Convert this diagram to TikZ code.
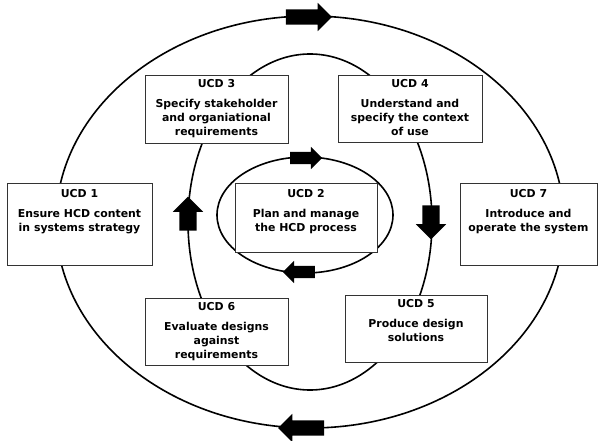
\documentclass[tikz,border=0pt]{standalone}
\usepackage{fontspec}
\setmainfont{DejaVu Sans}
\usetikzlibrary{shapes.arrows}
\begin{document}
\begin{tikzpicture}[x=1pt,y=-1pt,
  ring/.style={line width=1.6pt},
  ucdbox/.style={draw=black!80,line width=0.6pt,fill=white,inner sep=0pt},
  ucdtext/.style={anchor=north,align=center,inner sep=0pt,
    font=\fontsize{10.9}{14}\selectfont\bfseries},
  blockarrow/.style={single arrow,fill=black,draw=none,inner xsep=0pt,
    single arrow head indent=0pt,anchor=center}
]
\useasboundingbox (0,0) rectangle (600,441);
% rings
\draw[ring] (310,222) ellipse [x radius=254,y radius=206];
\draw[ring] (310,222) ellipse [x radius=122,y radius=168];
\draw[ring] (305,215) ellipse [x radius=88,y radius=58];
% boxes
\node[ucdbox,minimum width=145pt,minimum height=82pt] (b1) at (79.5,224) {};
\node[ucdbox,minimum width=143pt,minimum height=68pt] (b3) at (216.5,109) {};
\node[ucdbox,minimum width=144pt,minimum height=67pt] (b4) at (410,108.5) {};
\node[ucdbox,minimum width=142pt,minimum height=69pt] (b2) at (306,217.5) {};
\node[ucdbox,minimum width=137pt,minimum height=82pt] (b7) at (528.5,224) {};
\node[ucdbox,minimum width=143pt,minimum height=67pt] (b6) at (216.5,331.5) {};
\node[ucdbox,minimum width=142pt,minimum height=67pt] (b5) at (416,328.5) {};
% texts
\node[ucdtext] (t1) at ([yshift=-7pt]b1.north) {UCD 1\\[6pt]Ensure HCD content\\in systems strategy};
\node[ucdtext] (t3) at ([yshift=-5pt]b3.north) {UCD 3\\[6pt]Specify stakeholder\\and organiational\\requirements};
\node[ucdtext] (t4) at ([yshift=-5pt]b4.north) {UCD 4\\[6pt]Understand and\\specify the context\\of use};
\node[ucdtext] (t2) at ([yshift=-7pt]b2.north) {UCD 2\\[6pt]Plan and manage\\the HCD process};
\node[ucdtext] (t7) at ([yshift=-7pt]b7.north) {UCD 7\\[6pt]Introduce and\\operate the system};
\node[ucdtext] (t6) at ([yshift=-5pt]b6.north) {UCD 6\\[6pt]Evaluate designs\\against\\requirements};
\node[ucdtext] (t5) at ([yshift=-5pt]b5.north) {UCD 5\\[6pt]Produce design\\solutions};
% arrows
\node[blockarrow,minimum height=46pt,inner ysep=7.5pt,single arrow head extend=6.5pt] (a1) at (305,17) {};
\node[blockarrow,minimum height=46pt,inner ysep=7.5pt,single arrow head extend=6.5pt,rotate=180] (a2) at (305,428) {};
\node[blockarrow,minimum height=32pt,inner ysep=6pt,single arrow head extend=5pt] (a3) at (303,158) {};
\node[blockarrow,minimum height=32pt,inner ysep=6pt,single arrow head extend=5pt,rotate=180] (a4) at (302,272) {};
\node[blockarrow,minimum height=34pt,inner ysep=8.5pt,single arrow head extend=6.5pt,rotate=90] (a5) at (188,218) {};
\node[blockarrow,minimum height=34pt,inner ysep=8.5pt,single arrow head extend=6.5pt,rotate=-90] (a6) at (431,218) {};
\end{tikzpicture}
\end{document}
